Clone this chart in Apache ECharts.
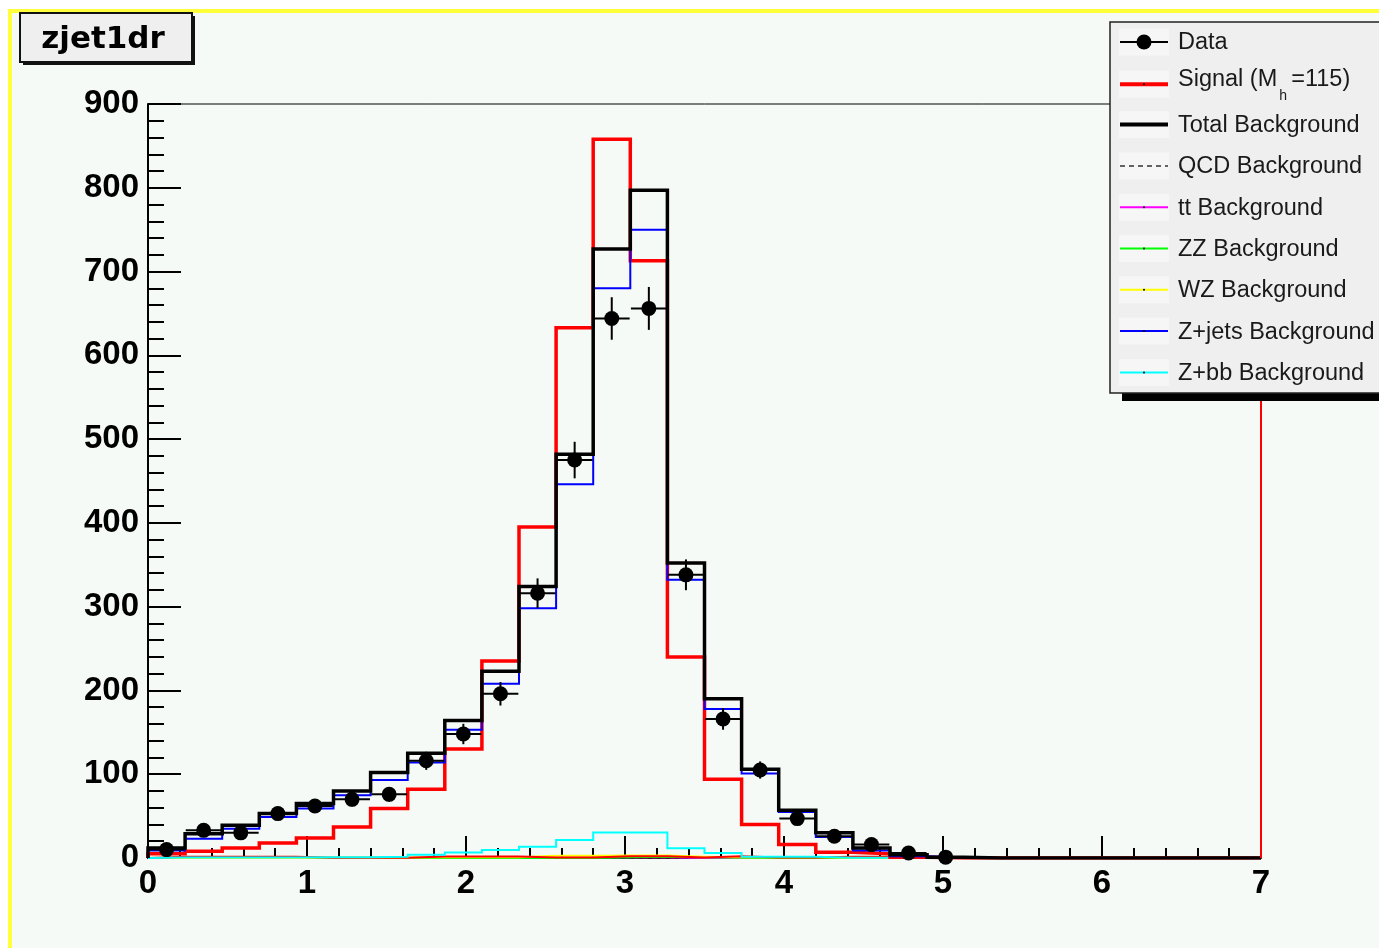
<!DOCTYPE html>
<html>
<head>
<meta charset="utf-8">
<title>zjet1dr</title>
<script src="https://cdn.jsdelivr.net/npm/echarts@6/dist/echarts.min.js"></script>
<style>
  html, body { margin: 0; padding: 0; background: #ffffff; }
  #chart { width: 1379px; height: 948px; }
</style>
</head>
<body>
<div id="chart"></div>
<script>
// Histogram binning: 30 equal bins on [0, 7]
const X_MIN = 0;
const X_MAX = 7;
const N_BINS = 30;

// Axis tick labels
const xTickLabels = ['0', '1', '2', '3', '4', '5', '6', '7'];
const yTickLabels = ['0', '100', '200', '300', '400', '500', '600', '700', '800', '900'];

// Observed events per bin (bins beyond the last entry are empty)
const dataCounts = [10, 33, 30, 53, 62, 70, 76, 116, 148, 196, 316, 475, 644, 656, 338, 166, 105, 47, 26, 16, 6, 1];

// Signal (Mh = 115)
const signalCounts = [5, 8, 12, 18, 24, 37, 59, 82, 130, 235, 395, 633, 858, 713, 240, 94, 40, 16, 7, 5, 1, 0, 0, 0, 0, 0, 0, 0, 0, 0];

// Total background
const totalBkgCounts = [12, 29, 39, 53, 65, 80, 102, 125, 164, 223, 324, 482, 727, 797, 352, 190, 106, 57, 30, 12, 4, 1, 0, 0, 0, 0, 0, 0, 0, 0];

// Individual background components
const qcdBkgCounts = [0, 0, 0, 0, 0, 0, 0, 0, 0, 0, 0, 0, 0, 0, 0, 0, 0, 0, 0, 0, 0, 0, 0, 0, 0, 0, 0, 0, 0, 0];
const ttBkgCounts = [0, 0, 0, 0, 0, 0, 0, 0, 0, 0, 0.5, 0.5, 1.2, 0.8, 0, 0, 0, 0, 0, 0, 0, 0, 0, 0, 0, 0, 0, 0, 0, 0];
const zzBkgCounts = [0, 0, 0, 0, 0, 0, 0, 0, 0, 0, 0, 0, 0.8, 1.5, 1.0, 0.3, 0, 0, 0, 0, 0, 0, 0, 0, 0, 0, 0, 0, 0, 0];
const wzBkgCounts = [0, 0, 0, 0, 0.5, 0.5, 0.5, 0.8, 0.8, 0.8, 2.8, 2.8, 3, 3, 1.5, 0.8, 0.8, 0.8, 0.3, 0.2, 0, 0, 0, 0, 0, 0, 0, 0, 0, 0];
const zjetsBkgCounts = [9, 23, 35, 49, 59, 75, 93, 114, 153, 208, 298, 446, 680, 750, 332, 178, 101, 55, 25, 9, 2, 0.5, 0, 0, 0, 0, 0, 0, 0, 0];
const zbbBkgCounts = [0.5, 0.5, 0.5, 0.5, 1, 1, 1.5, 4, 6.5, 9.5, 13.5, 21.5, 30.5, 30.5, 11.5, 6, 1.5, 1.5, 0.3, 0.3, 0.3, 0.3, 0.3, 0.3, 0.3, 0.3, 0.3, 0.3, 0.3, 0.3];
const minorBkgCounts = [1.5, 1.5, 1.5, 1.5, 0.3, 0.3, 0.3, 1.8, 1.8, 1.8, 0.6, 0.6, 2, 2, 0.5, 2, 0.5, 0.5, 1.5, 1.5, 0, 0, 0, 0, 0, 0, 0, 0, 0, 0];

// Legend entries
const legendLabels = ['Data', 'Signal (M', 'Total Background', 'QCD Background', 'tt Background', 'ZZ Background', 'WZ Background', 'Z+jets Background', 'Z+bb Background'];

const BIN_W = (X_MAX - X_MIN) / N_BINS;
const binLowEdges = Array.from({ length: N_BINS }, (_, i) => X_MIN + i * BIN_W);

// Outline of a histogram as a step path: rise at xmin, one flat top per bin, drop at xmax
function histPath(vals) {
  const pts = [[X_MIN, 0]];
  vals.forEach((v, i) => pts.push([binLowEdges[i], v]));
  pts.push([X_MAX, vals[vals.length - 1]]);
  pts.push([X_MAX, 0]);
  return pts;
}

function histSeries(name, vals, color, width, extra) {
  return Object.assign({
    name: name,
    type: 'line',
    step: 'end',
    data: histPath(vals),
    showSymbol: false,
    symbol: 'none',
    silent: true,
    lineStyle: { color: color, width: width, type: 'solid', join: 'miter', cap: 'butt' },
    animation: false
  }, extra || {});
}

const FONT = '"Liberation Sans", Arial, Helvetica, sans-serif';
const LEG_FONT_SIZE = 23.5;

const chart = echarts.init(document.getElementById('chart'), null, { renderer: 'canvas' });

// Data points with Poisson error bars
const dataPoints = dataCounts.map((n, i) => [binLowEdges[i] + BIN_W / 2, n, Math.sqrt(n)]);

const dataSeries = {
  name: 'Data',
  type: 'custom',
  coordinateSystem: 'cartesian2d',
  encode: { x: 0, y: 1 },
  data: dataPoints,
  clip: false,
  silent: true,
  animation: false,
  z: 10,
  renderItem: function (params, api) {
    const x = api.value(0), y = api.value(1), e = api.value(2);
    const c = api.coord([x, y]);
    const top = api.coord([x, y + e]);
    const bot = api.coord([x, Math.max(y - e, 0)]);
    const left = api.coord([x - BIN_W / 2 + 0.004, y]);
    const right = api.coord([x + BIN_W / 2 - 0.004, y]);
    return {
      type: 'group',
      children: [
        { type: 'line', shape: { x1: left[0], y1: c[1], x2: right[0], y2: c[1] }, style: { stroke: '#000', lineWidth: 2 } },
        { type: 'line', shape: { x1: c[0], y1: top[1], x2: c[0], y2: bot[1] }, style: { stroke: '#000', lineWidth: 2 } },
        { type: 'circle', shape: { cx: c[0], cy: c[1], r: 7.5 }, style: { fill: '#000' } }
      ]
    };
  }
};

// Legend drawn as a framed box with sample lines
const ctx = document.createElement('canvas').getContext('2d');
ctx.font = LEG_FONT_SIZE + 'px ' + FONT;

const legX = 1110, legY = 22, legW = 300, legH = 371;
const rowY0 = 42, rowStep = 41.3;
const sampleX1 = 1120, sampleX2 = 1168, textX = 1178;

const legendStyles = [
  { color: '#000000', width: 2, marker: 'big' },
  { color: '#ff0000', width: 4, marker: 'dot' },
  { color: '#000000', width: 4, marker: 'none' },
  { color: '#333333', width: 1.5, marker: 'none', dash: [5, 4] },
  { color: '#ff00ff', width: 2, marker: 'dot' },
  { color: '#00ff00', width: 2, marker: 'dot' },
  { color: '#ffff00', width: 2, marker: 'dot' },
  { color: '#0000ff', width: 2, marker: 'dot' },
  { color: '#00ffff', width: 2, marker: 'dot' }
];

const legendGraphics = [
  { type: 'rect', shape: { x: legX + 12, y: legY + 8, width: legW, height: legH }, style: { fill: '#000' }, z: 100, silent: true },
  { type: 'rect', shape: { x: legX, y: legY, width: legW, height: legH }, style: { fill: '#efefef', stroke: '#222', lineWidth: 1.5 }, z: 101, silent: true }
];

legendLabels.forEach(function (label, i) {
  const st = legendStyles[i];
  const cy = rowY0 + i * rowStep + (i === 1 ? 1 : 0);
  legendGraphics.push({ type: 'rect', shape: { x: sampleX1 - 1, y: cy - 13.5, width: 50, height: 27 }, style: { fill: '#f6f6f6' }, z: 102, silent: true });
  legendGraphics.push({
    type: 'line', shape: { x1: sampleX1, y1: cy, x2: sampleX2, y2: cy },
    style: { stroke: st.color, lineWidth: st.width, lineDash: st.dash || null }, z: 103, silent: true
  });
  if (st.marker === 'big') {
    legendGraphics.push({ type: 'circle', shape: { cx: (sampleX1 + sampleX2) / 2, cy: cy, r: 7.5 }, style: { fill: '#000' }, z: 104, silent: true });
  } else if (st.marker === 'dot') {
    legendGraphics.push({ type: 'circle', shape: { cx: (sampleX1 + sampleX2) / 2, cy: cy, r: 1 }, style: { fill: '#000' }, z: 104, silent: true });
  }
  const textY = i === 1 ? cy - 5 : cy + 1;
  legendGraphics.push({
    type: 'text', x: textX, y: textY, z: 104, silent: true,
    style: { text: label, fill: '#1a1a1a', font: LEG_FONT_SIZE + 'px ' + FONT, align: 'left', verticalAlign: 'middle' }
  });
  if (i === 1) {
    const w = ctx.measureText(label).width;
    legendGraphics.push({
      type: 'text', x: textX + w + 2, y: textY + 17, z: 104, silent: true,
      style: { text: 'h', fill: '#1a1a1a', font: '14px ' + FONT, align: 'left', verticalAlign: 'middle' }
    });
    legendGraphics.push({
      type: 'text', x: textX + w + 14, y: textY, z: 104, silent: true,
      style: { text: '=115)', fill: '#1a1a1a', font: LEG_FONT_SIZE + 'px ' + FONT, align: 'left', verticalAlign: 'middle' }
    });
  }
});

const frameGraphics = [
  // outer canvas edge and yellow pad border
  { type: 'rect', shape: { x: 0, y: 0, width: 1379, height: 9 }, style: { fill: '#ffffff' }, silent: true, z: 1 },
  { type: 'rect', shape: { x: 0, y: 0, width: 8, height: 948 }, style: { fill: '#ffffff' }, silent: true, z: 1 },
  { type: 'rect', shape: { x: 8, y: 9, width: 1371, height: 4 }, style: { fill: '#ffff3a' }, silent: true, z: 2 },
  { type: 'rect', shape: { x: 8, y: 9, width: 4, height: 939 }, style: { fill: '#ffff3a' }, silent: true, z: 2 },
  // title box
  { type: 'rect', shape: { x: 23, y: 16, width: 172, height: 49 }, style: { fill: '#111' }, silent: true, z: 100 },
  { type: 'rect', shape: { x: 20, y: 13, width: 172, height: 49 }, style: { fill: '#efefef', stroke: '#111', lineWidth: 2 }, silent: true, z: 101 },
  {
    type: 'text', x: 103, y: 40, z: 102, silent: true,
    style: { text: 'zjet1dr', fill: '#000', font: 'bold 31px "DejaVu Sans", sans-serif', align: 'center', verticalAlign: 'middle' }
  }
];

const option = {
  backgroundColor: '#f6faf7',
  animation: false,
  grid: {
    left: 148, right: 118, top: 104, bottom: 90,
    show: true, borderColor: '#000', borderWidth: 1, backgroundColor: 'transparent'
  },
  xAxis: {
    type: 'value', min: X_MIN, max: X_MAX, interval: 1,
    axisLine: { show: true, onZero: false, lineStyle: { color: '#000', width: 2 } },
    axisTick: { show: true, inside: true, length: 22, lineStyle: { color: '#000', width: 2 } },
    minorTick: { show: true, splitNumber: 5, length: 10, lineStyle: { color: '#000', width: 2 } },
    splitLine: { show: false },
    axisLabel: {
      margin: 9, color: '#000', fontFamily: FONT, fontWeight: 'bold', fontSize: 33,
      formatter: function (v) { return xTickLabels[Math.round(v)]; }
    }
  },
  yAxis: {
    type: 'value', min: 0, max: 900, interval: 100,
    axisLine: { show: true, onZero: false, lineStyle: { color: '#000', width: 2 } },
    axisTick: { show: true, inside: true, length: 33, lineStyle: { color: '#000', width: 2 } },
    minorTick: { show: true, splitNumber: 5, length: 16, lineStyle: { color: '#000', width: 2 } },
    splitLine: { show: false },
    axisLabel: {
      margin: 9, color: '#000', fontFamily: FONT, fontWeight: 'bold', fontSize: 33,
      padding: [4, 0, 0, 0],
      formatter: function (v) { return yTickLabels[Math.round(v / 100)]; }
    }
  },
  series: [
    histSeries('QCD Background', qcdBkgCounts, '#333333', 1.5, { lineStyle: { color: '#333333', width: 1.5, type: [5, 4] } }),
    histSeries('tt Background', ttBkgCounts, '#ff00ff', 2),
    histSeries('ZZ Background', zzBkgCounts, '#00ff00', 2),
    histSeries('WZ Background', wzBkgCounts, '#ffff00', 2),
    histSeries('minor', minorBkgCounts, '#ff0000', 2),
    histSeries('Z+bb Background', zbbBkgCounts, '#00ffff', 2),
    histSeries('Signal', signalCounts, '#ff0000', 3.5, {
      markLine: {
        silent: true, symbol: ['none', 'none'], animation: false,
        label: { show: false },
        lineStyle: { color: '#ff0000', width: 2, type: 'solid' },
        data: [{ xAxis: X_MAX }]
      }
    }),
    histSeries('Z+jets Background', zjetsBkgCounts, '#0000ff', 2),
    histSeries('Total Background', totalBkgCounts, '#000000', 3.5),
    dataSeries
  ],
  graphic: { elements: frameGraphics.concat(legendGraphics) }
};

chart.setOption(option);
</script>
</body>
</html>
